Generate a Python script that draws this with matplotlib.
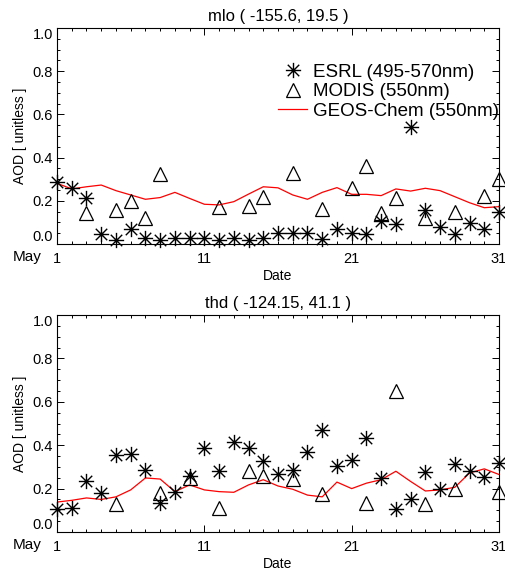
import numpy as np
import matplotlib
matplotlib.use("Agg")
import matplotlib.pyplot as plt
from matplotlib.path import Path
from matplotlib.lines import Line2D
from matplotlib.ticker import MultipleLocator

plt.rcParams['font.family'] = ['Liberation Sans', 'DejaVu Sans']

days = list(range(1, 32))

# --- mlo ---
mlo_title = "mlo ( -155.6, 19.5 )"
mlo_esrl_days = list(range(1, 32))
mlo_esrl = [0.289, 0.258, 0.211, 0.046, 0.019, 0.068, 0.029, 0.019, 0.029, 0.029,
            0.029, 0.019, 0.029, 0.019, 0.029, 0.049, 0.049, 0.052, 0.023, 0.068,
            0.049, 0.046, 0.106, 0.091, 0.54, 0.157, 0.077, 0.045, 0.096, 0.068, 0.15]
mlo_modis_days = [3, 5, 6, 7, 8, 12, 14, 15, 17, 19, 21, 22, 23, 24, 26, 28, 30, 31]
mlo_modis = [0.145, 0.157, 0.20, 0.119, 0.323, 0.173, 0.176, 0.216, 0.33, 0.161,
             0.261, 0.361, 0.145, 0.211, 0.119, 0.147, 0.222, 0.30]
mlo_geos = [0.281, 0.255, 0.265, 0.273, 0.247, 0.227, 0.207, 0.215, 0.239, 0.211,
            0.184, 0.181, 0.196, 0.231, 0.265, 0.260, 0.227, 0.207, 0.239, 0.261,
            0.230, 0.230, 0.224, 0.255, 0.245, 0.258, 0.247, 0.219, 0.191, 0.168, 0.173]

# --- thd ---
thd_title = "thd ( -124.15, 41.1 )"
thd_esrl_days = list(range(1, 32))
thd_esrl = [0.104, 0.110, 0.233, 0.178, 0.356, 0.359, 0.285, 0.134, 0.186, 0.257,
            0.386, 0.283, 0.417, 0.386, 0.327, 0.265, 0.288, 0.370, 0.470, 0.304,
            0.332, 0.433, 0.249, 0.104, 0.150, 0.275, 0.197, 0.312, 0.280, 0.252, 0.320]
thd_modis_days = [5, 8, 10, 12, 14, 15, 17, 19, 22, 24, 26, 28, 31]
thd_modis = [0.128, 0.181, 0.249, 0.110, 0.280, 0.257, 0.244, 0.173, 0.134, 0.650,
             0.128, 0.197, 0.186]
thd_geos = [0.138, 0.146, 0.157, 0.150, 0.162, 0.194, 0.249, 0.244, 0.186, 0.217,
            0.194, 0.186, 0.183, 0.217, 0.241, 0.212, 0.197, 0.170, 0.162, 0.230,
            0.200, 0.225, 0.241, 0.280, 0.233, 0.189, 0.194, 0.206, 0.272, 0.291, 0.265]

xticks = [1, 11, 21, 31]
yticks = [0.0, 0.2, 0.4, 0.6, 0.8, 1.0]

d = 0.75
ast = Path([(-1, 0), (1, 0), (0, -1), (0, 1), (-d, -d), (d, d), (-d, d), (d, -d)],
           [Path.MOVETO, Path.LINETO] * 4)

W, H = 505, 573
fig = plt.figure(figsize=(W / 100, H / 100), dpi=100)

def make_axes(top_px, bot_px):
    return fig.add_axes([57 / W, 1 - bot_px / H, 442 / W, (bot_px - top_px) / H])

panels = [
    (make_axes(28, 244), mlo_title, mlo_esrl_days, mlo_esrl, mlo_modis_days, mlo_modis, mlo_geos, True),
    (make_axes(315, 532), thd_title, thd_esrl_days, thd_esrl, thd_modis_days, thd_modis, thd_geos, False),
]

for ax, title, ed, ev, md, mv, gv, leg in panels:
    ax.plot(days, gv, color='red', lw=0.9, zorder=2)
    ax.plot(ed, ev, linestyle='none', marker=ast, markersize=11, markeredgewidth=1.0,
            markeredgecolor='black', markerfacecolor='none', zorder=3, clip_on=False)
    ax.plot(md, mv, linestyle='none', marker='^', markersize=10, markeredgewidth=0.9,
            markeredgecolor='black', markerfacecolor='none', zorder=3, clip_on=False)
    ax.set_xlim(1, 31)
    ax.set_ylim(0, 1)
    ax.set_xticks(xticks)
    ax.set_xticklabels([str(t) for t in xticks])
    ax.xaxis.set_minor_locator(MultipleLocator(1))
    ax.set_yticks(yticks)
    ax.set_yticklabels([f"{t:.1f}" for t in yticks])
    ax.yaxis.set_minor_locator(MultipleLocator(0.05))
    ax.tick_params(which='both', direction='in', top=True, right=True, labelsize=10.5,
                   width=0.7, colors='black')
    ax.tick_params(which='major', length=5)
    ax.tick_params(which='minor', length=2.5)
    ax.tick_params(axis='x', which='major', pad=6)
    ax.tick_params(axis='y', which='major', pad=3)
    labs = ax.get_yticklabels()
    labs[0].set_va('bottom')
    labs[-1].set_va('top')
    xl = ax.get_xticklabels()
    xl[-1].set_ha('center')
    for s in ax.spines.values():
        s.set_linewidth(0.8)
    ax.set_title(title, fontsize=12, pad=5)
    ax.set_xlabel('Date', fontsize=10, labelpad=2)
    ax.set_ylabel('AOD [ unitless ]', fontsize=10, labelpad=4)
    ax.text(-0.068, -0.06, 'May', transform=ax.transAxes, fontsize=11,
            ha='center', va='center')
    if leg:
        handles = [
            Line2D([], [], linestyle='none', marker=ast, markersize=11, markeredgewidth=1.0,
                   markeredgecolor='black', markerfacecolor='none'),
            Line2D([], [], linestyle='none', marker='^', markersize=10, markeredgewidth=0.9,
                   markeredgecolor='black', markerfacecolor='none'),
            Line2D([], [], color='red', lw=0.9),
        ]
        labels = ['ESRL (495-570nm)', 'MODIS (550nm)', 'GEOS-Chem (550nm)']
        ax.legend(handles, labels, loc='upper left', bbox_to_anchor=(0.5, 0.835),
                  frameon=False, fontsize=13.5, borderpad=0, borderaxespad=0,
                  handlelength=1.55, handletextpad=0.3, labelspacing=0.12)

fig.savefig('out.png', dpi=100)
